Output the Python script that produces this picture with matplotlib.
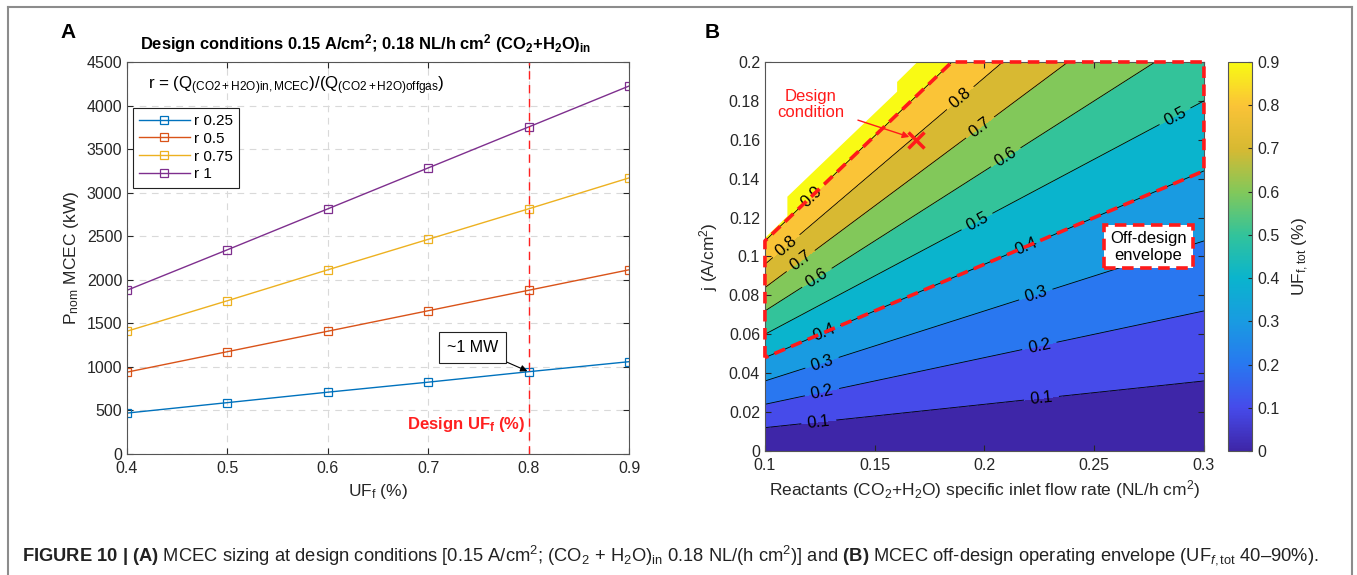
import numpy as np
import matplotlib
matplotlib.use('Agg')
import matplotlib.pyplot as plt
from matplotlib.colors import LinearSegmentedColormap, Normalize
from matplotlib.cm import ScalarMappable
from matplotlib.lines import Line2D

plt.rcParams['font.family'] = ['Liberation Sans', 'DejaVu Sans']
plt.rcParams['mathtext.fontset'] = 'custom'
plt.rcParams['mathtext.rm'] = 'Liberation Sans'
plt.rcParams['mathtext.it'] = 'Liberation Sans:italic'
plt.rcParams['mathtext.bf'] = 'Liberation Sans:bold'
plt.rcParams['mathtext.default'] = 'regular'

# --- (A) MCEC nominal power vs fuel utilisation, one line per flow ratio r
uf = [0.4, 0.5, 0.6, 0.7, 0.8, 0.9]
p_r025 = [470, 590, 710, 825, 945, 1060]
p_r050 = [940, 1175, 1410, 1645, 1880, 2115]
p_r075 = [1410, 1760, 2115, 2465, 2815, 3170]
p_r100 = [1880, 2345, 2815, 3285, 3755, 4225]
r_labels = ['r 0.25', 'r 0.5', 'r 0.75', 'r 1']
design_uf = 0.8

# --- (B) off-design map UF_f,tot(flow rate, current density)
flow_rate = np.linspace(0.1, 0.3, 81)        # NL/h cm2
current_density = np.linspace(0.0, 0.2, 81)  # A/cm2
j_over_flow_at_full_uf = 1.2                 # j/flow ratio where UF_f,tot = 1
uf_levels = [0.0, 0.1, 0.2, 0.3, 0.4, 0.5, 0.6, 0.7, 0.8, 0.9]
envelope_uf = (0.4, 0.9)
design_flow, design_j = 0.169, 0.160
# upper edge of the computed map (no solution above it)
limit_flow = [0.1, 0.11, 0.11, 0.16, 0.16, 0.169]
limit_j = [0.110, 0.121, 0.131, 0.185, 0.190, 0.200]
# contour labels: (level, flow rate where the label sits)
label_spots = [(0.1, 0.1245), (0.1, 0.226), (0.2, 0.126), (0.2, 0.225),
               (0.3, 0.126), (0.3, 0.2234), (0.4, 0.127), (0.4, 0.219),
               (0.5, 0.1966), (0.5, 0.2868), (0.6, 0.1237), (0.6, 0.2097),
               (0.7, 0.1163), (0.7, 0.198), (0.8, 0.1097), (0.8, 0.189),
               (0.9, 0.1212)]

# parula-like colours at 0, 0.1, ... 0.9
parula_pts = [(62, 38, 168), (70, 75, 235), (40, 120, 240), (25, 155, 225),
              (10, 180, 205), (50, 195, 155), (130, 200, 90), (215, 185, 50),
              (250, 195, 55), (249, 250, 20)]
parula = LinearSegmentedColormap.from_list(
    'parula', [tuple(c / 255 for c in p) for p in parula_pts])

line_colors = ['#0072BD', '#D95319', '#EDB120', '#7E2F8E']
axis_gray = '#262626'

fig = plt.figure(figsize=(13.57, 5.75), dpi=100)

# ---------------- panel A ----------------
axA = fig.add_axes([0.0936, 0.2104, 0.370, 0.6817])
for p, lab, c in zip([p_r025, p_r050, p_r075, p_r100], r_labels, line_colors):
    axA.plot(uf, p, '-s', color=c, lw=1.0, ms=6, mfc='none', mew=0.9, label=lab)
axA.axvline(design_uf, color='#FF2020', ls=(0, (6, 4)), lw=1.0)
axA.set_xlim(0.4, 0.9)
axA.set_ylim(0, 4500)
axA.set_xticks(uf)
axA.set_yticks(np.arange(0, 4501, 500))
axA.grid(True, ls=(0, (6, 5)), color='#d9d9d9', lw=0.8)
axA.tick_params(direction='in', top=True, right=True, labelsize=11.5,
                colors=axis_gray, length=4)
axA.tick_params(axis='x', pad=5)
for s in axA.spines.values():
    s.set_color('#555555')
axA.set_xlabel('UF$_f$ (%)', fontsize=12.5, color=axis_gray)
axA.set_ylabel('P$_{nom}$ MCEC (kW)', fontsize=12.5, color=axis_gray)
axA.set_title(r'Design conditions 0.15 A/cm$^{\mathbf{2}}$; 0.18 NL/h cm$^{\mathbf{2}}$ '
              r'(CO$_{\mathbf{2}}$+H$_{\mathbf{2}}$O)$_{\mathbf{in}}$',
              fontsize=11.9, fontweight='bold', pad=9, x=0.475)
axA.text(0.042, 0.94, r'r = (Q$_{(CO2+H2O)in,MCEC}$)/(Q$_{(CO2+H2O)offgas}$)',
         transform=axA.transAxes, fontsize=12.2, va='center')
leg = axA.legend(loc='upper left', bbox_to_anchor=(0.012, 0.883), borderaxespad=0,
                 fontsize=11, handlelength=3.3, fancybox=False, framealpha=1,
                 edgecolor='#222222', labelspacing=0.25, borderpad=0.4,
                 handletextpad=0.3)
leg.get_frame().set_linewidth(0.8)
axA.annotate('~1 MW', xy=(design_uf, p_r025[uf.index(design_uf)]),
             xytext=(0.744, 1228), fontsize=11.5, ha='center', va='center',
             bbox=dict(boxstyle='square,pad=0.5', fc='white', ec='#222222', lw=0.8),
             arrowprops=dict(arrowstyle='-|>', color='black', lw=0.8,
                             shrinkA=0, shrinkB=1, mutation_scale=10))
axA.text(0.738, 344, r'Design UF$_{\mathbf{f}}$ (%)', color='#FF2020',
         fontsize=12, fontweight='bold', ha='center', va='center')

# ---------------- panel B ----------------
axB = fig.add_axes([0.5637, 0.2157, 0.3235, 0.6765])
k = j_over_flow_at_full_uf
F, J = np.meshgrid(flow_rate, current_density)
UF = J / (k * F)
norm = Normalize(vmin=0, vmax=0.9)
fill_levels = uf_levels + [2.0]
band_colors = [parula(norm(v)) for v in uf_levels]
axB.contourf(F, J, UF, levels=fill_levels, colors=band_colors)
cs = axB.contour(F, J, UF, levels=uf_levels[1:], colors='black', linewidths=0.6)
axB.clabel(cs, fmt='%.1f', fontsize=12, inline=True, inline_spacing=6,
           manual=[(x, lev * k * x) for lev, x in label_spots])
axB.fill_between(limit_flow, limit_j, 0.2, color='white', lw=0, zorder=2)

# off-design envelope: UF between envelope limits, clipped to map edges
uf_lo, uf_hi = envelope_uf
x0, x1, jmax = flow_rate[0], flow_rate[-1], current_density[-1]
env_x = [x0, x0, jmax / (uf_hi * k), x1, x1, x0]
env_y = [uf_lo * k * x0, uf_hi * k * x0, jmax, jmax, uf_lo * k * x1, uf_lo * k * x0]
axB.plot(env_x, env_y, color='#FF1A1A', lw=2.6, ls=(0, (3.2, 1.8)),
         clip_on=False, zorder=5)

axB.plot(design_flow, design_j, 'x', color='#FF1A1A', ms=11, mew=2.5, zorder=6)
axB.annotate('Design\ncondition', xy=(design_flow - 0.002, design_j + 0.001),
             xytext=(0.121, 0.178), color='#FF1A1A', fontsize=12,
             ha='center', va='center', linespacing=1.1,
             arrowprops=dict(arrowstyle='-|>', color='#FF1A1A', lw=1.0,
                             shrinkA=8, shrinkB=2, mutation_scale=10), zorder=6)
axB.text(0.2747, 0.105, 'Off-design\nenvelope', fontsize=12, ha='center',
         va='center', linespacing=1.15, zorder=6,
         bbox=dict(boxstyle='square,pad=0.35', fc='white', ec='#FF1A1A', lw=2.6,
                   ls=(0, (3.2, 1.8))))

axB.set_xlim(0.1, 0.3)
axB.set_ylim(0, 0.2)
axB.set_xticks([0.1, 0.15, 0.2, 0.25, 0.3])
axB.set_xticklabels(['0.1', '0.15', '0.2', '0.25', '0.3'])
axB.set_yticks(np.arange(0, 0.201, 0.02))
axB.set_yticklabels(['0', '0.02', '0.04', '0.06', '0.08', '0.1', '0.12',
                     '0.14', '0.16', '0.18', '0.2'])
axB.tick_params(direction='in', top=True, right=True, labelsize=11.5,
                colors=axis_gray, length=4)
axB.tick_params(axis='x', pad=5)
for s in axB.spines.values():
    s.set_color('#555555')
axB.set_xlabel('Reactants (CO$_2$+H$_2$O) specific inlet flow rate (NL/h cm$^2$)',
               fontsize=12.5, color=axis_gray)
axB.set_ylabel('j (A/cm$^2$)', fontsize=12.5, color=axis_gray, labelpad=6)

cax = fig.add_axes([0.905, 0.2157, 0.0177, 0.6765])
cb = fig.colorbar(ScalarMappable(norm=norm, cmap=parula), cax=cax)
cb.set_ticks(uf_levels)
cb.set_ticklabels(['0', '0.1', '0.2', '0.3', '0.4', '0.5', '0.6', '0.7', '0.8', '0.9'])
cb.ax.tick_params(direction='in', labelsize=11.5, colors=axis_gray, length=3)
cb.outline.set_edgecolor('#555555')
cb.set_label('UF$_{f,tot}$ (%)', fontsize=12.5, color=axis_gray, labelpad=8)

# panel letters
fig.text(0.050, 0.943, 'A', fontsize=15, fontweight='bold', ha='center', va='center')
fig.text(0.525, 0.943, 'B', fontsize=15, fontweight='bold', ha='center', va='center')

# caption and frame
fig.text(0.016, 0.035,
         r'$\mathbf{FIGURE\ 10\ |\ (A)}$ MCEC sizing at design conditions [0.15 A/cm$^2$; '
         r'(CO$_2$ + H$_2$O)$_{in}$ 0.18 NL/(h cm$^2$)] and $\mathbf{(B)}$ MCEC '
         r'off-design operating envelope (UF$_{\mathit{f},tot}$ 40–90%).',
         fontsize=13.2, va='center', ha='left', color='#222222')
frame_kw = dict(color='#8c8c8c', lw=1.5, transform=fig.transFigure)
fig.add_artist(Line2D([0.006, 0.006], [0.0, 0.988], **frame_kw))
fig.add_artist(Line2D([0.006, 0.9965], [0.988, 0.988], **frame_kw))
fig.add_artist(Line2D([0.9965, 0.9965], [0.0, 0.988], **frame_kw))

fig.savefig('out.png', dpi=100)
